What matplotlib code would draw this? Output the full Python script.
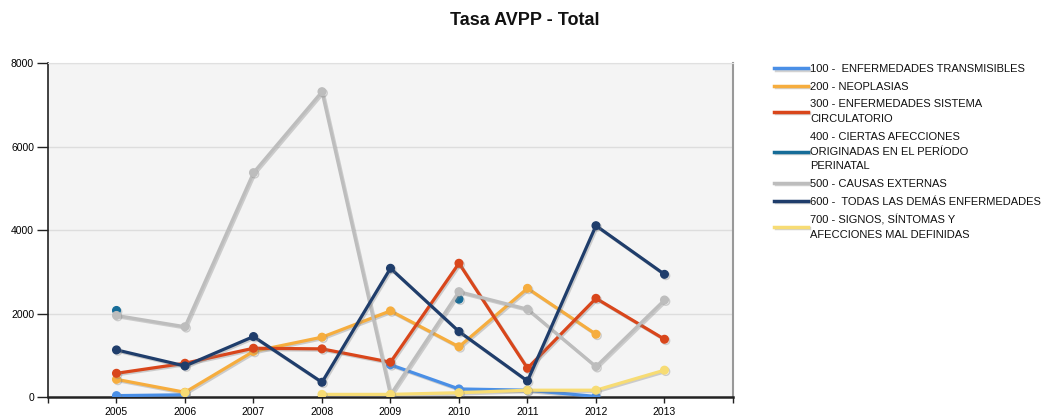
import matplotlib
matplotlib.use("Agg")
import matplotlib.pyplot as plt
import matplotlib.patheffects as pe
import numpy as np
from matplotlib import font_manager

# pick a narrow font if there is one
names = set(f.name for f in font_manager.fontManager.ttflist)
FONT = "Liberation Sans Narrow" if "Liberation Sans Narrow" in names else "Liberation Sans"
plt.rcParams['font.family'] = [FONT, 'DejaVu Sans']

years = [2005, 2006, 2007, 2008, 2009, 2010, 2011, 2012, 2013]
nan = np.nan

s100 = [40, 60, nan, nan, 780, 200, 170, 20, nan]
s200 = [430, 120, 1100, 1440, 2070, 1210, 2610, 1510, nan]
s300 = [575, 815, 1175, 1160, 840, 3210, 695, 2370, 1390]
s400 = [2080, nan, nan, nan, nan, 2350, nan, nan, nan]
s500 = [1960, 1690, 5380, 7320, 60, 2530, 2110, 735, 2330]
s600 = [1135, 750, 1455, 360, 3090, 1575, 390, 4110, 2945]
s700 = [nan, 110, nan, 70, 70, 110, 170, 170, 650]

labels = [
    "100 -  ENFERMEDADES TRANSMISIBLES",
    "200 - NEOPLASIAS",
    "300 - ENFERMEDADES SISTEMA\nCIRCULATORIO",
    "400 - CIERTAS AFECCIONES\nORIGINADAS EN EL PERÍODO\nPERINATAL",
    "500 - CAUSAS EXTERNAS",
    "600 -  TODAS LAS DEMÁS ENFERMEDADES",
    "700 - SIGNOS, SÍNTOMAS Y\nAFECCIONES MAL DEFINIDAS",
]
series = [s100, s200, s300, s400, s500, s600, s700]
colors = ["#4a8fe6", "#f6ad3e", "#d9461b", "#166c98", "#bdbdbd", "#1f3d6b", "#f7dc74"]

fig = plt.figure(figsize=(10.41, 4.19), dpi=100)
ax = fig.add_axes([0.0461, 0.0518, 0.6580, 0.7972])
ax.set_facecolor("#f4f4f4")

shadow = [pe.SimpleLineShadow(offset=(1, -1), shadow_color="0.5", alpha=0.35), pe.Normal()]
handles = []
for vals, col, lab in zip(series, colors, labels):
    h, = ax.plot(years, vals, color=col, lw=2.3, marker="o", ms=5.5,
                 markeredgecolor=col, label=lab, path_effects=shadow, zorder=3)
    handles.append(h)

ax.set_xlim(2004, 2014)
ax.set_ylim(0, 8000)
ax.set_xticks(range(2004, 2015))
ax.set_xticklabels([""] + [str(y) for y in years] + [""])
ax.set_yticks([0, 2000, 4000, 6000, 8000])
ax.tick_params(axis="both", labelsize=7.5, width=1, direction="out", color="#222222")
ax.tick_params(axis="x", length=4, pad=3)
ax.tick_params(axis="y", length=8, pad=2)
ax.yaxis.grid(True, color="#dddddd", lw=1)
ax.set_axisbelow(True)
ax.spines["left"].set_color("#222222")
ax.spines["left"].set_linewidth(1.2)
ax.spines["bottom"].set_color("#222222")
ax.spines["bottom"].set_linewidth(1.8)
ax.spines["right"].set_color("#999999")
ax.spines["right"].set_linewidth(1.5)
ax.spines["top"].set_color("#e0e0e0")

fig.text(0.504, 0.952, "Tasa AVPP - Total", ha="center", va="center",
         fontsize=13, fontweight="bold", color="#111111")

leg = fig.legend(handles=handles, loc="upper left", bbox_to_anchor=(0.7397, 0.857),
                 frameon=False, fontsize=8, handlelength=3.0, handletextpad=0.2,
                 labelspacing=0.68, borderaxespad=0)
for line in leg.get_lines():
    line.set_linewidth(2.5)
    line.set_markersize(0)
for t in leg.get_texts():
    t.set_linespacing(1.6)
    t.set_color("#111111")

fig.savefig("out.png", dpi=100)
